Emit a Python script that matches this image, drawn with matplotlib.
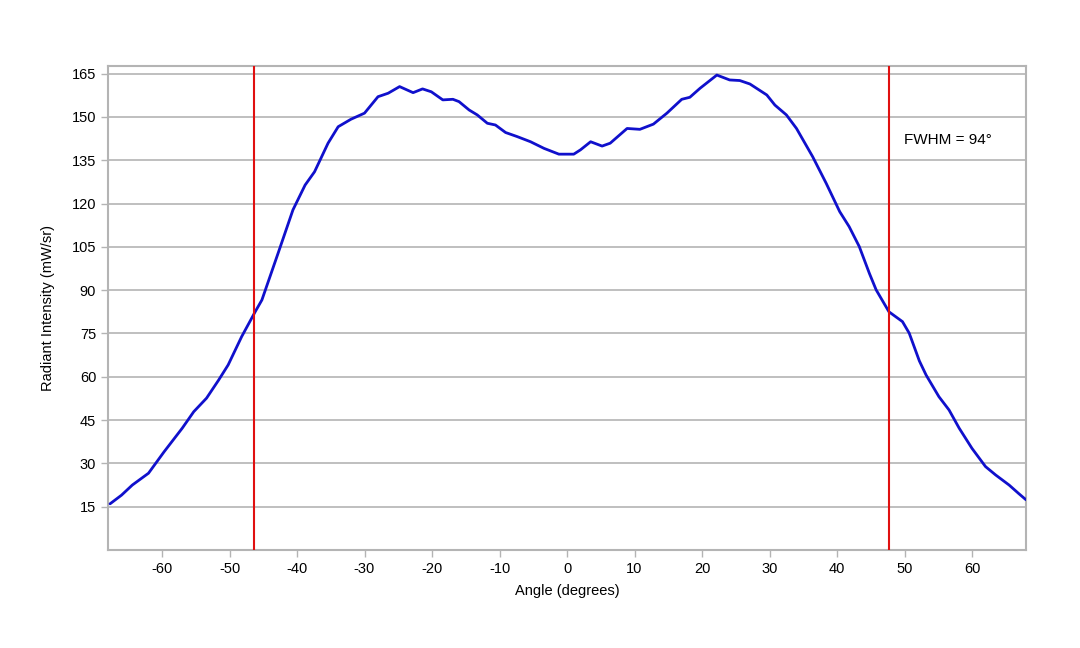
import matplotlib
matplotlib.use("Agg")
import matplotlib.pyplot as plt

plt.rcParams['font.family'] = ['Liberation Sans', 'DejaVu Sans']
plt.rcParams['axes.unicode_minus'] = False

angle = [-67.7, -66.0, -64.4, -62.0, -59.7, -57.0, -55.3, -53.4, -51.6, -50.2,
         -48.2, -46.2, -45.2, -42.8, -40.6, -38.8, -37.4, -35.4, -33.9, -32.0,
         -30.0, -28.0, -26.5, -24.8, -22.8, -21.4, -20.1, -18.4, -16.9, -16.0,
         -14.5, -13.3, -11.8, -10.6, -9.1, -7.4, -5.4, -3.4, -1.2, 1.0,
         2.0, 3.5, 5.2, 6.4, 8.9, 10.8, 12.8, 14.8, 17.0, 18.2,
         19.7, 22.2, 24.1, 25.6, 27.1, 29.6, 30.8, 32.5, 34.0, 36.4,
         38.4, 40.4, 41.8, 43.3, 44.8, 45.8, 47.7, 49.7, 50.7, 52.2,
         53.2, 55.1, 56.6, 58.1, 60.0, 62.0, 63.5, 65.5, 66.9, 68.0]
intensity = [16.0, 19.0, 22.5, 26.6, 34.0, 42.2, 47.9, 52.6, 58.9, 64.1,
             73.9, 82.5, 86.6, 102.8, 117.8, 126.4, 131.0, 140.9, 146.6, 149.2,
             151.3, 157.0, 158.2, 160.5, 158.4, 159.7, 158.7, 155.9, 156.1, 155.3,
             152.4, 150.7, 147.8, 147.2, 144.6, 143.2, 141.4, 139.1, 137.1, 137.1,
             138.6, 141.4, 139.9, 140.9, 146.0, 145.7, 147.5, 151.3, 156.1, 156.8,
             159.9, 164.5, 162.8, 162.6, 161.4, 157.6, 154.1, 150.7, 146.0, 136.2,
             127.0, 117.2, 112.0, 105.1, 95.8, 90.1, 82.5, 79.1, 75.1, 65.5,
             60.6, 53.1, 48.5, 42.2, 35.2, 28.9, 26.0, 22.5, 19.6, 17.4]
fwhm_left = -46.3
fwhm_right = 47.7
fwhm_label = "FWHM = 94°"
yticks = [15, 30, 45, 60, 75, 90, 105, 120, 135, 150, 165]
xticks = [-60, -50, -40, -30, -20, -10, 0, 10, 20, 30, 40, 50, 60]

fig = plt.figure(figsize=(10.8, 6.48), dpi=100)
ax = fig.add_axes([0.1, 0.1512, 0.85, 0.7468])

grid_c = '#b4b4b4'
ax.set_yticks(yticks)
ax.set_xticks(xticks)
ax.yaxis.grid(True, color=grid_c, linewidth=1.2)
ax.set_axisbelow(True)
for s in ax.spines.values():
    s.set_color(grid_c)
    s.set_linewidth(1.5)
ax.tick_params(axis='both', colors=grid_c, labelcolor='black', labelsize=10.5, length=5, width=1)

ax.plot(angle, intensity, color='#1010cc', linewidth=2.0, solid_joinstyle='round',
        solid_capstyle='round', zorder=3)
ax.axvline(fwhm_left, color='#e01010', linewidth=1.5, zorder=4)
ax.axvline(fwhm_right, color='#e01010', linewidth=1.5, zorder=4)
ax.text(49.9, 142, fwhm_label, fontsize=11, ha='left', va='center')

ax.set_xlim(-68, 68)
ax.set_ylim(0, 167.6)
ax.set_xlabel('Angle (degrees)', fontsize=10.5, labelpad=6)
ax.set_ylabel('Radiant Intensity (mW/sr)', fontsize=10.5, labelpad=12)

fig.savefig('out.png', dpi=100)
